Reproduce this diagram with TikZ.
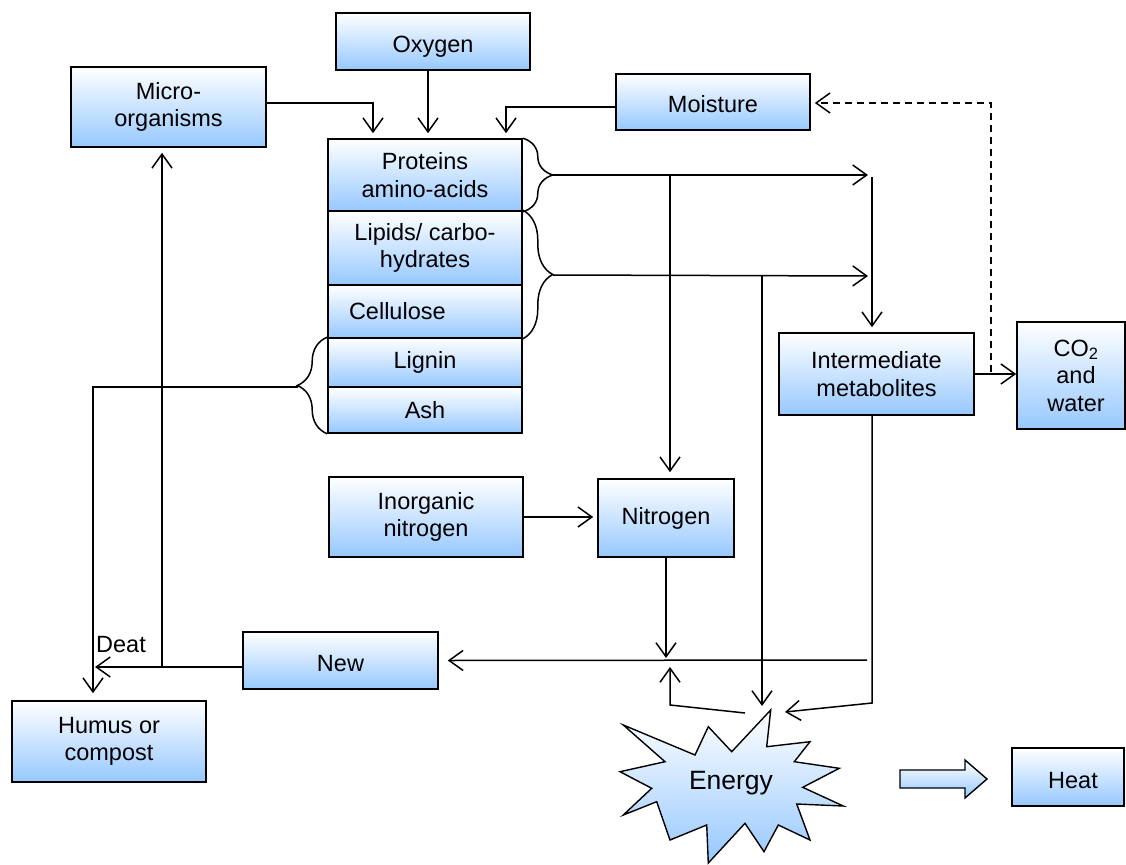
\documentclass[tikz,border=0pt]{standalone}
\usepackage{fontspec}
\setmainfont{Liberation Sans}
\usetikzlibrary{arrows.meta,decorations.pathreplacing}
\definecolor{boxblue}{RGB}{150,200,255}

\begin{document}
\begin{tikzpicture}[x=1pt,y=-1pt,
  box/.style={draw=black, line width=1.6pt, top color=white, bottom color=boxblue,
    align=center, inner sep=0pt, font=\fontsize{23.5}{27.5}\selectfont},
  low/.style={text height=27pt, text depth=5pt},
  conn/.style={line width=1.5pt, -{Straight Barb[length=14pt,width=20pt]}},
  curly/.style={line width=1.5pt, decorate, decoration={brace, amplitude=30pt}}]
  \useasboundingbox (0,0) rectangle (1126,864);

  \node[box, low, minimum width=194pt, minimum height=57pt] (oxygen) at (433,41.5) {Oxygen};
  \node[box, minimum width=195pt, minimum height=80pt] (micro) at (168.5,107) {Micro-\\organisms};
  \node[box, low, minimum width=194pt, minimum height=56pt] (moisture) at (713,102) {Moisture};

  \node[box, minimum width=194pt, minimum height=72pt] (proteins) at (425,175) {Proteins\\amino-acids};
  \node[box, minimum width=194pt, minimum height=74pt] (lipids) at (425,248) {Lipids/ carbo-\\hydrates};
  \node[box, minimum width=194pt, minimum height=53pt, text width=152pt, align=left] (cellulose) at (425,311.5) {Cellulose};
  \node[box, minimum width=194pt, minimum height=49pt] (lignin) at (425,362.5) {Lignin};
  \node[box, minimum width=194pt, minimum height=46pt] (ash) at (425,410) {Ash};

  \node[box, minimum width=195pt, minimum height=82pt] (inter) at (876.5,374) {Intermediate\\metabolites};
  \node[box, minimum width=108pt, minimum height=107pt] (co2) at (1071,375.5) {\hspace*{10pt}CO\textsubscript{2}\\\hspace*{10pt}and\\\hspace*{10pt}water};
  \node[box, minimum width=194pt, minimum height=80pt] (inorg) at (426,517) {Inorganic\\nitrogen};
  \node[box, minimum width=136pt, minimum height=78pt] (nitrogen) at (666,518) {Nitrogen};
  \node[box, low, minimum width=195pt, minimum height=57pt] (new) at (340.5,660.5) {New};
  \node[box, minimum width=194pt, minimum height=81pt] (humus) at (109,741.5) {Humus or\\compost};
  \node[box, low, minimum width=112pt, minimum height=58pt] (heat) at (1068,777) {\hspace*{10pt}Heat};

  % braces
  \draw[curly] (proteins.north east) -- (proteins.south east);
  \draw[curly] (lipids.north east) -- (cellulose.south east);
  \draw[curly] (ash.south west) -- (lignin.north west);
  \coordinate (b1) at (553,175);
  \coordinate (b2) at (553,275);
  \coordinate (b3) at (298,387);

  % energy
  \draw[line width=1.4pt, top color=white, bottom color=boxblue]
    (770.7,710) -- (766.7,746.7) -- (810,741.7) -- (794.3,761.7) -- (839.3,768.3)
    -- (802.7,787.3) -- (843.3,806) -- (796.7,804) -- (810,840) -- (778.3,825)
    -- (764,851.7) -- (745,823.3) -- (708.3,863) -- (706.7,825) -- (670,840)
    -- (656.7,801.7) -- (623.3,815) -- (651.7,788.3) -- (620,771.7) -- (665,761.7)
    -- (623.3,725) -- (695,755) -- (708.3,726.7) -- (731.7,751.7) -- cycle;
  \node[font=\fontsize{26.5}{30}\selectfont] (energy) at (731,783) {Energy};
  \draw[line width=1.4pt, top color=white, bottom color=boxblue]
    (900,770) -- (965,770) -- (965,760) -- (987,779) -- (965,798) -- (965,788) -- (900,788) -- cycle;

  \coordinate (m1) at (868,175);
  \coordinate (m2) at (868,276);
  \coordinate (n1) at (670,175);
  \coordinate (e1) at (762,276);
  \coordinate (e2) at (762,706);
  \coordinate (k1) at (872,703);
  \coordinate (k2) at (785,712);
  \coordinate (f1) at (745,713);
  \coordinate (f2) at (670,705);
  \coordinate (f3) at (670,667);
  \coordinate (g1) at (666,658);
  \coordinate (r1) at (867,660);
  \coordinate (h1) at (95,667);
  \coordinate (h2) at (162,667);

  \draw[conn] ([yshift=4pt]micro.east) -| ([xshift=-52pt,yshift=5pt]proteins.north);
  \draw[conn] ([xshift=-5pt]oxygen.south) -- ([xshift=3pt,yshift=5pt]proteins.north);
  \draw[conn] ([yshift=-5pt]moisture.west) -| ([xshift=81pt,yshift=5pt]proteins.north);
  \draw[conn] (b1) -- (m1);
  \draw[conn] (b2) -- (m2);
  \draw[conn] ([xshift=4pt,yshift=-2pt]m1) -- ([xshift=-4.5pt,yshift=5pt]inter.north);
  \draw[conn] (n1) -- ([xshift=4pt,yshift=6pt]nitrogen.north);
  \draw[conn] (e1) -- (e2);
  \draw[conn] (inter.east) -- (inter.east -| co2.west);
  \draw[conn, dash pattern=on 7pt off 5pt] ([xshift=16pt,yshift=2pt]inter.east) |- ([xshift=4pt,yshift=-1pt]moisture.east);
  \draw[conn] ([xshift=-4.5pt]inter.south) -- (k1) -- (k2);
  \draw[conn] (nitrogen.south) -- (g1);
  \draw[conn] (r1) -- ([xshift=9pt]new.east);
  \draw[conn] (f1) -- (f2) -- (f3);
  \draw[conn, shorten >=4pt] (inorg.east) -- (inorg.east -| nitrogen.west);
  \draw[conn] ([yshift=-6.5pt]new.west) -- (h1);
  \draw[conn] (h2) -- ([xshift=-6.5pt,yshift=-5pt]micro.south);
  \draw[conn] (b3) -| ([xshift=-16pt,yshift=7pt]humus.north);

  \node[anchor=base west, inner sep=0pt, font=\fontsize{23.5}{27.5}\selectfont] (deat) at (96,652) {Deat};
\end{tikzpicture}
\end{document}
